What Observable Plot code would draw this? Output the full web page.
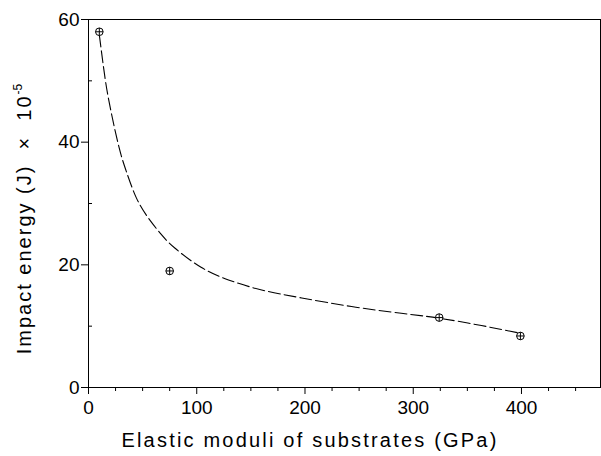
<!DOCTYPE html>
<html>
<head>
<meta charset="utf-8">
<script src="https://cdn.jsdelivr.net/npm/d3@7"></script>
<script src="https://cdn.jsdelivr.net/npm/@observablehq/plot@0.6"></script>
<style>
  html, body { margin: 0; padding: 0; background: #fff; }
</style>
</head>
<body>
<div id="chart"></div>
<script>
// Measured data points
const modulus = [10, 75, 324, 399];
const energy = [58, 19, 11.4, 8.4];

// Fitted dashed curve
const curveX = [10, 15, 20, 28, 35, 44, 55, 67, 80, 104, 130, 160, 197, 243, 289, 324, 363, 400];
const curveY = [57.5, 50.8, 45.7, 39.3, 35.2, 31.0, 27.7, 25.0, 22.7, 19.6, 17.5, 15.9, 14.6, 13.2, 12.1, 11.3, 10.1, 8.8];

// Ticks
const xTicks = [0, 100, 200, 300, 400];
const xMinor = [25, 50, 75, 125, 150, 175, 225, 250, 275, 325, 350, 375, 425, 450];
const yTicks = [0, 20, 40, 60];
const yMinor = [10, 30, 50];

const points = modulus.map((m, i) => ({x: m, y: energy[i]}));
const curve = curveX.map((c, i) => ({x: c, y: curveY[i]}));

const circlePlus = {
  draw(context, size) {
    const r = Math.sqrt(size / Math.PI);
    context.moveTo(r, 0);
    context.arc(0, 0, r, 0, 2 * Math.PI);
    context.moveTo(-r, 0);
    context.lineTo(r, 0);
    context.moveTo(0, -r);
    context.lineTo(0, r);
  }
};

const FONT = "'Liberation Sans', Arial, sans-serif";

const chart = Plot.plot({
  width: 601,
  height: 456,
  marginLeft: 88,
  marginRight: 1,
  marginTop: 19,
  marginBottom: 69,
  x: {domain: [0, 473]},
  y: {domain: [0, 60]},
  style: {fontFamily: FONT, fontSize: "19px", color: "#000", background: "#fff"},
  marks: [
    Plot.frame({stroke: "#000", strokeWidth: 1}),
    Plot.axisX({ticks: xTicks, tickSize: 7, tickPadding: 6, fontSize: 19, label: null}),
    Plot.axisX({ticks: xMinor, tickSize: 4, text: null, label: null}),
    Plot.axisY({ticks: yTicks, tickSize: 7, tickPadding: 2, fontSize: 19, label: null}),
    Plot.axisY({ticks: yMinor, tickSize: -4, text: null, label: null}),
    Plot.line(curve, {x: "x", y: "y", curve: "natural", stroke: "#000", strokeWidth: 1.1, strokeDasharray: "12,4"}),
    Plot.dot(points, {x: "x", y: "y", symbol: circlePlus, r: 3.8, stroke: "#000", strokeWidth: 1, fill: "#fff"})
  ]
});

const svg = d3.select(chart);
// x-axis title
svg.append("text")
  .attr("x", 310).attr("y", 447)
  .attr("text-anchor", "middle")
  .attr("font-family", FONT)
  .attr("font-size", 20)
  .attr("letter-spacing", "2.2px")
  .attr("fill", "#000")
  .text("Elastic moduli of substrates (GPa)");
// y-axis title with superscript
const yt = svg.append("text")
  .attr("transform", "translate(31,219) rotate(-90)")
  .attr("text-anchor", "middle")
  .attr("font-family", FONT)
  .attr("font-size", 20)
  .attr("letter-spacing", "2px")
  .attr("fill", "#000");
yt.append("tspan").text("Impact energy (J)  \u00d7  10");
yt.append("tspan").attr("dy", -9).attr("font-size", 12).attr("letter-spacing", "0px").text("-5");

document.getElementById("chart").appendChild(chart);
</script>
</body>
</html>
